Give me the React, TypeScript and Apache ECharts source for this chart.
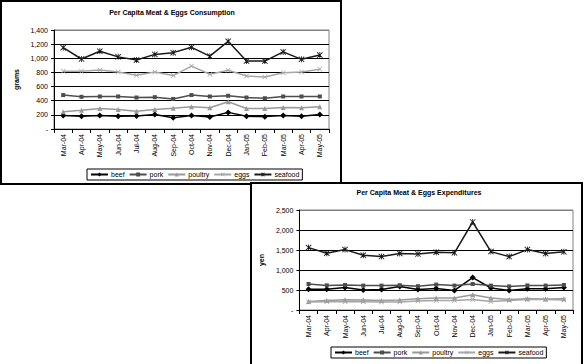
import React, { useEffect, useRef } from "react";
import * as echarts from "echarts";

const categories = ["Mar-04", "Apr-04", "May-04", "Jun-04", "Jul-04", "Aug-04", "Sep-04", "Oct-04", "Nov-04", "Dec-04", "Jan-05", "Feb-05", "Mar-05", "Apr-05", "May-05"];
const seriesNames = ["beef", "pork", "poultry", "eggs", "seafood"];

// Consumption (grams)
const consBeef = [190, 180, 190, 180, 185, 205, 160, 190, 170, 235, 180, 175, 190, 180, 205];
const consPork = [480, 455, 460, 460, 445, 450, 425, 480, 460, 470, 445, 435, 460, 460, 460];
const consPoultry = [245, 265, 290, 275, 250, 275, 295, 315, 300, 385, 290, 290, 305, 300, 315];
const consEggs = [815, 815, 835, 805, 760, 805, 755, 890, 775, 830, 750, 735, 795, 805, 845];
const consSeafood = [1150, 990, 1100, 1020, 975, 1055, 1080, 1155, 1030, 1240, 960, 960, 1090, 985, 1045];

// Expenditures (yen)
const expBeef = [520, 520, 565, 500, 515, 590, 515, 540, 490, 810, 550, 485, 530, 530, 560];
const expPork = [650, 615, 625, 610, 610, 620, 595, 635, 610, 650, 610, 590, 615, 610, 625];
const expPoultry = [215, 240, 255, 250, 240, 250, 280, 300, 300, 380, 300, 265, 280, 275, 280];
const expEggs = [200, 205, 205, 205, 200, 200, 225, 235, 235, 265, 215, 240, 265, 260, 250];
const expSeafood = [1560, 1420, 1510, 1370, 1335, 1415, 1400, 1445, 1430, 2200, 1460, 1335, 1510, 1410, 1455];

const FONT = "'Liberation Sans', Arial, sans-serif";
const X_PATH = "path://M0,1 L1,0 L5,4 L9,0 L10,1 L6,5 L10,9 L9,10 L5,6 L1,10 L0,9 L4,5 Z";
const STAR_PATH = "path://M0,1 L1,0 L5,4 L9,0 L10,1 L6,5 L10,9 L9,10 L5,6 L1,10 L0,9 L4,5 Z M4.3,0 L5.7,0 L5.7,10 L4.3,10 Z";

const styles = [
  { color: "#000000", symbol: "diamond", size: 6 },
  { color: "#4d4d4d", symbol: "rect", size: 4 },
  { color: "#999999", symbol: "triangle", size: 5 },
  { color: "#a6a6a6", symbol: X_PATH, size: 5 },
  { color: "#1a1a1a", symbol: STAR_PATH, size: 6 },
];

function makeOption(cfg: any) {
  const nLines = cfg.max / cfg.interval + 1;
  const splitColors = [];
  for (let i = 0; i < nLines; i++) splitColors.push(i === nLines - 1 ? "#808080" : "#000000");
  return {
    animation: false,
    backgroundColor: "#ffffff",
    textStyle: { fontFamily: FONT },
    title: {
      text: cfg.title,
      left: "center",
      top: cfg.titleTop,
      padding: 0,
      textStyle: { fontSize: 7, fontWeight: "bold", color: "#000", fontFamily: FONT },
    },
    legend: {
      data: seriesNames,
      left: cfg.legendLeft,
      top: cfg.legendTop,
      orient: "horizontal",
      itemWidth: 17,
      itemHeight: 5,
      itemGap: 4,
      padding: [2, 3],
      borderColor: "#000",
      borderWidth: 1,
      textStyle: { fontSize: 7, color: "#000", fontFamily: FONT, padding: [0, 0, 0, -2] },
    },
    grid: {
      left: cfg.grid.left,
      top: cfg.grid.top,
      width: cfg.grid.width,
      height: cfg.grid.height,
      show: true,
      borderColor: "#808080",
      borderWidth: 1,
      backgroundColor: "transparent",
    },
    xAxis: {
      type: "category",
      data: categories,
      boundaryGap: true,
      axisLine: { lineStyle: { color: "#000", width: 1 } },
      axisTick: { show: true, length: 4, lineStyle: { color: "#000" } },
      axisLabel: { rotate: 90, fontSize: 7, color: "#000", margin: 5, fontFamily: FONT, interval: 0 },
      splitLine: { show: false },
    },
    yAxis: {
      type: "value",
      min: 0,
      max: cfg.max,
      interval: cfg.interval,
      name: cfg.yName,
      nameLocation: "middle",
      nameRotate: 90,
      nameGap: cfg.nameGap,
      nameTextStyle: { fontSize: 7, fontWeight: "bold", color: "#000", fontFamily: FONT },
      axisLine: { show: true, lineStyle: { color: "#000", width: 1 } },
      axisTick: { show: true, length: 3, lineStyle: { color: "#000" } },
      axisLabel: {
        fontSize: 7,
        color: "#000",
        margin: 6,
        fontFamily: FONT,
        formatter: (v: number) => (v === 0 ? "-" : v.toLocaleString("en-US")),
      },
      splitLine: { show: true, lineStyle: { color: splitColors, width: 1 } },
    },
    series: cfg.data.map((d: number[], i: number) => ({
      name: seriesNames[i],
      type: "line",
      data: d,
      symbol: styles[i].symbol,
      symbolSize: styles[i].size,
      showAllSymbol: true,
      lineStyle: { color: styles[i].color, width: 1.5 },
      itemStyle: { color: styles[i].color, borderWidth: 0 },
      emphasis: { disabled: true },
    })),
    graphic: [
      {
        type: "rect",
        shape: cfg.frame,
        style: { fill: "none", stroke: "#000", lineWidth: 2 },
        silent: true,
        z: 100,
      },
    ],
  };
}

function Chart({ option, style }: { option: any; style: React.CSSProperties }) {
  const ref = useRef<HTMLDivElement>(null);
  useEffect(() => {
    if (!ref.current) return;
    const chart = echarts.init(ref.current, undefined, { renderer: "svg" });
    chart.setOption(option);
    return () => chart.dispose();
  }, [option]);
  return <div ref={ref} style={style} />;
}

const option1 = makeOption({
  title: "Per Capita Meat & Eggs Consumption",
  titleTop: 9,
  yName: "grams",
  nameGap: 31,
  max: 1400,
  interval: 200,
  grid: { left: 54, top: 30, width: 275, height: 99 },
  legendLeft: 87,
  legendTop: 169,
  frame: { x: 1, y: 1, width: 340, height: 183 },
  data: [consBeef, consPork, consPoultry, consEggs, consSeafood],
});

const option2 = makeOption({
  title: "Per Capita Meat & Eggs Expenditures",
  titleTop: 7,
  yName: "yen",
  nameGap: 31,
  max: 2500,
  interval: 500,
  grid: { left: 49, top: 28, width: 274, height: 100 },
  legendLeft: 81,
  legendTop: 165,
  frame: { x: 1, y: 1, width: 331, height: 220 },
  data: [expBeef, expPork, expPoultry, expEggs, expSeafood],
});

export default function App() {
  return (
    <div style={{ position: "fixed", left: 0, top: 0, width: 588, height: 364, background: "#fff", overflow: "hidden" }}>
      <Chart option={option1} style={{ position: "absolute", left: 0, top: 0, width: 344, height: 186 }} />
      <Chart option={option2} style={{ position: "absolute", left: 250, top: 182, width: 338, height: 182, zIndex: 2 }} />
    </div>
  );
}
